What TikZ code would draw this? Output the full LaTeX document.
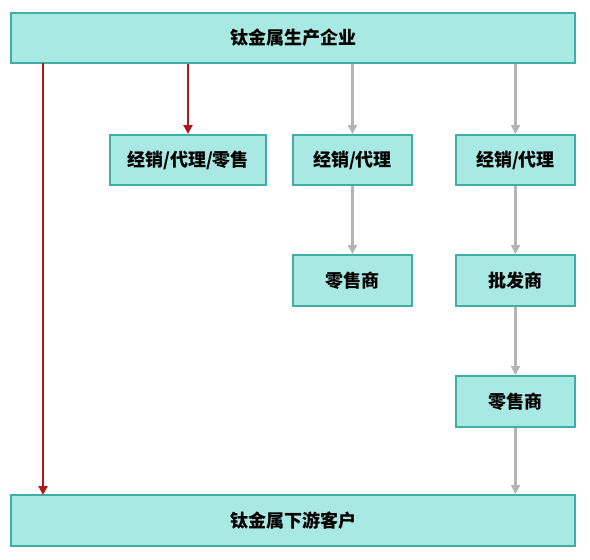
\documentclass[tikz,border=0pt]{standalone}
\usepackage{fontspec}
\newfontfamily\cjk{Noto Sans CJK SC}
\usetikzlibrary{arrows.meta}
\definecolor{boxfill}{HTML}{A9E9E3}
\definecolor{boxline}{HTML}{3FAFA6}
\definecolor{redline}{HTML}{B0181C}
\definecolor{grayline}{HTML}{B4B4B4}
\begin{document}
\begin{tikzpicture}[x=1pt,y=-1pt,
  box/.style={draw=boxline,fill=boxfill,line width=2pt,inner sep=0pt,font=\cjk\bfseries\fontsize{18}{20}\selectfont},
  redarrow/.style={draw=redline,line width=2.2pt,-{Triangle[length=9pt,width=9pt]}},
  grayarrow/.style={draw=grayline,line width=2.2pt,-{Triangle[length=9pt,width=9pt]}}]
\useasboundingbox (0,0) rectangle (590,560);
\node[box,minimum width=564pt,minimum height=50pt] (top) at (293,38) {钛金属生产企业};
\node[box,minimum width=156pt,minimum height=50pt] (a1) at (188,160) {经销/代理/零售};
\node[box,minimum width=119pt,minimum height=50pt] (b1) at (352.5,160) {经销/代理};
\node[box,minimum width=119pt,minimum height=50pt] (c1) at (515.5,160) {经销/代理};
\node[box,minimum width=119pt,minimum height=51pt] (b2) at (352.5,280.5) {零售商};
\node[box,minimum width=119pt,minimum height=51pt] (c2) at (515.5,280.5) {批发商};
\node[box,minimum width=119pt,minimum height=51pt] (c3) at (515.5,401.5) {零售商};
\node[box,minimum width=564pt,minimum height=51pt] (bot) at (293,520.5) {钛金属下游客户};
\coordinate (r1s) at (43,63);
\coordinate (r1e) at (43,495);
\draw[redarrow] (r1s) -- (r1e);
\draw[redarrow] (top.south -| a1.north) -- (a1.north);
\draw[grayarrow] (top.south -| b1.north) -- (b1.north);
\draw[grayarrow] (b1) -- (b2);
\draw[grayarrow] (top.south -| c1.north) -- (c1.north);
\draw[grayarrow] (c1) -- (c2);
\draw[grayarrow] (c2) -- (c3);
\draw[grayarrow] (c3.south) -- (c3.south |- bot.north);
\end{tikzpicture}
\end{document}
